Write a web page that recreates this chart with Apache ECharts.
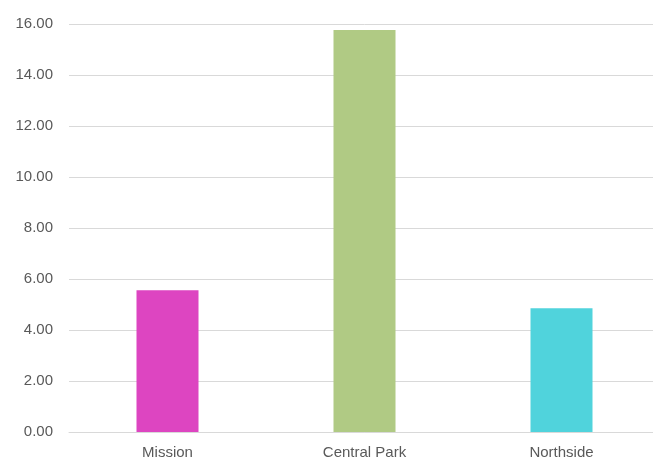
<!DOCTYPE html>
<html>
<head>
<meta charset="utf-8">
<script src="https://cdn.jsdelivr.net/npm/echarts@6/dist/echarts.min.js"></script>
<style>html,body{margin:0;padding:0;background:#fff;overflow:hidden;width:653px;height:458px;}#c{width:662px;height:458px;}</style>
</head>
<body>
<div id="c"></div>
<script>
const categories = ['Mission', 'Central Park', 'Northside'];
const values = [5.56, 15.76, 4.85];
const barColors = ['#DD45C1', '#B0CA84', '#50D3DC'];
const yTicks = { min: 0, max: 16, interval: 2 };

const chart = echarts.init(document.getElementById('c'));
chart.setOption({
  animation: false,
  backgroundColor: '#ffffff',
  grid: { left: 69, top: 24, width: 591, height: 408, containLabel: false, outerBoundsMode: 'none' },
  xAxis: {
    type: 'category',
    data: categories,
    axisLine: { show: true, lineStyle: { color: '#d9d9d9', width: 1 } },
    axisTick: { show: false },
    axisLabel: { color: '#595959', fontSize: 15, fontFamily: 'Liberation Sans, Arial, sans-serif', margin: 13 }
  },
  yAxis: {
    type: 'value',
    min: yTicks.min, max: yTicks.max, interval: yTicks.interval,
    axisLine: { show: false },
    axisTick: { show: false },
    splitLine: { lineStyle: { color: '#d9d9d9', width: 1 } },
    axisLabel: {
      color: '#595959', fontSize: 15, fontFamily: 'Liberation Sans, Arial, sans-serif', margin: 16,
      formatter: v => v.toFixed(2)
    }
  },
  series: [{
    type: 'bar',
    barWidth: 62,
    data: values.map((v, i) => ({ value: v, itemStyle: { color: barColors[i] } }))
  }]
});
</script>
</body>
</html>
